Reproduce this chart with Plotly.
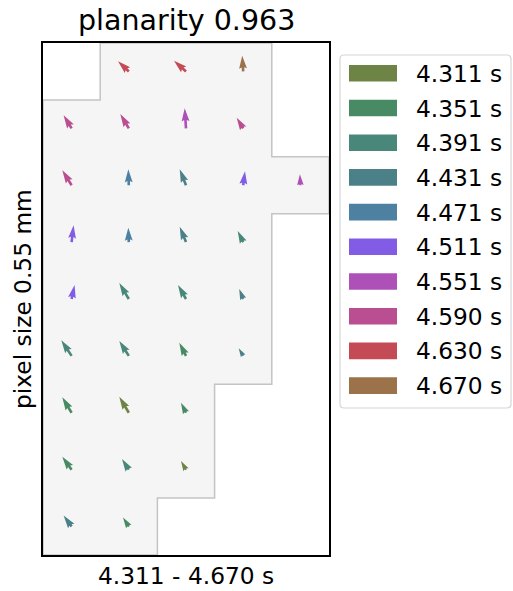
import numpy as np
import plotly.graph_objects as go

# ---------------- data ----------------
times = ["4.311", "4.351", "4.391", "4.431", "4.471", "4.511", "4.551", "4.590", "4.630", "4.670"]
time_colors = ["#6e8446", "#488a63", "#4a877b", "#4b8089", "#4e80a2",
               "#835ce6", "#ad50b8", "#b94e91", "#c44a55", "#9b7249"]

# grid cell (column, row) of each arrow tail, row 0 at the top
arrow_col = [1, 2, 3,
             0, 1, 2, 3,
             0, 1, 2, 3, 4,
             0, 1, 2, 3,
             0, 1, 2, 3,
             0, 1, 2, 3,
             0, 1, 2,
             0, 1, 2,
             0, 1]
arrow_row = [0, 0, 0,
             1, 1, 1, 1,
             2, 2, 2, 2, 2,
             3, 3, 3, 3,
             4, 4, 4, 4,
             5, 5, 5, 5,
             6, 6, 6,
             7, 7, 7,
             8, 8]
# vector components (right, up)
arrow_u = [-10.8, -12.0, -1.0,
           -8.0, -8.5, -1.3, -6.5,
           -9.3, -0.5, -6.3, 1.8, -0.5,
           2.0, -0.5, -6.3, -5.5,
           3.0, -9.5, -8.0, -4.0,
           -10.3, -9.5, -6.7, -4.5,
           -9.3, -9.5, -5.0,
           -9.3, -6.8, -5.0,
           -8.0, -5.8]
arrow_v = [10.2, 10.8, 15.8,
           13.0, 14.3, 20.0, 10.6,
           14.9, 15.9, 15.9, 14.0, 10.9,
           16.8, 14.4, 15.4, 11.1,
           14.0, 16.0, 14.0, 10.0,
           15.6, 15.0, 13.2, 7.6,
           15.5, 16.1, 10.1,
           13.0, 10.7, 8.7,
           11.0, 9.0]
arrow_time = ["4.630", "4.630", "4.670",
              "4.590", "4.590", "4.551", "4.590",
              "4.590", "4.471", "4.431", "4.511", "4.551",
              "4.511", "4.471", "4.431", "4.391",
              "4.511", "4.391", "4.391", "4.431",
              "4.391", "4.391", "4.351", "4.431",
              "4.351", "4.311", "4.351",
              "4.351", "4.391", "4.311",
              "4.431", "4.351"]

# outline of the sensor area (cell edges)
outline_x = [-0.5, 0.5, 0.5, 3.5, 3.5, 4.5, 4.5, 3.5, 3.5, 2.5, 2.5, 1.5, 1.5, -0.5, -0.5]
outline_y = [0.5, 0.5, -0.5, -0.5, 1.5, 1.5, 2.5, 2.5, 5.5, 5.5, 7.5, 7.5, 8.5, 8.5, 0.5]

title_text = "planarity 0.963"
xlabel_text = "4.311 - 4.670 s"
ylabel_text = "pixel size 0.55 mm"

# ---------------- layout geometry ----------------
W, H = 513, 591
PL, PR, PT, PB = 43, 329, 43, 555
NCOL, NROW = 5, 9
sx = (PR - PL) / NCOL
sy = (PB - PT) / NROW
FONT = "DejaVu Sans"

def px2paper_x(x):
    return (x - PL) / (PR - PL)

def px2paper_y(y):
    return (PB - y) / (PB - PT)

color_of = dict(zip(times, time_colors))

fig = go.Figure()

fig.add_trace(go.Scatter(
    x=outline_x, y=outline_y, mode="lines", fill="toself",
    fillcolor="#f5f5f5", line=dict(color="#c4c4c4", width=1.5),
    hoverinfo="skip", showlegend=False))

# quiver-like arrows (matplotlib quiver geometry, pivot at tail)
WPX = 2.6
HL, HAL, HW, MINSH = 5.0, 4.5, 3.0, 5.0

def arrow_poly(c, r, uu, vv):
    lp = np.hypot(uu, vv)
    dx, dy = uu / lp, -vv / lp          # screen direction (y down)
    nx, ny = -dy, dx
    lw = lp / WPX
    if lw >= MINSH:
        X = [0, lw - HAL, lw - HL, lw, lw - HL, lw - HAL, 0, 0]
        Y = [0.5, 0.5, HW / 2, 0, -HW / 2, -0.5, -0.5, 0.5]
    else:
        s = lw / MINSH
        X = [s * q for q in [0, MINSH - HAL, MINSH - HL, MINSH, MINSH - HL, MINSH - HAL, 0, 0]]
        Y = [s * q for q in [0.5, 0.5, HW / 2, 0, -HW / 2, -0.5, -0.5, 0.5]]
    X = np.array(X) * WPX
    Y = np.array(Y) * WPX
    px = X * dx + Y * nx
    py = X * dy + Y * ny
    return c + px / sx, r + py / sy

for c, r, uu, vv, t in zip(arrow_col, arrow_row, arrow_u, arrow_v, arrow_time):
    xs, ys = arrow_poly(c, r, uu, vv)
    fig.add_trace(go.Scatter(
        x=xs, y=ys, mode="lines", fill="toself",
        fillcolor=color_of[t], line=dict(width=0, color=color_of[t]),
        hoverinfo="skip", showlegend=False))

shapes = []
annotations = []

# manual legend
LX0, LX1, LY0, LY1, RAD = 340, 511, 55, 408, 4
def P(x, y):
    return f"{px2paper_x(x):.5f},{px2paper_y(y):.5f}"
path = (f"M{P(LX0 + RAD, LY0)} L{P(LX1 - RAD, LY0)} Q{P(LX1, LY0)} {P(LX1, LY0 + RAD)} "
        f"L{P(LX1, LY1 - RAD)} Q{P(LX1, LY1)} {P(LX1 - RAD, LY1)} "
        f"L{P(LX0 + RAD, LY1)} Q{P(LX0, LY1)} {P(LX0, LY1 - RAD)} "
        f"L{P(LX0, LY0 + RAD)} Q{P(LX0, LY0)} {P(LX0 + RAD, LY0)} Z")
shapes.append(dict(type="path", xref="paper", yref="paper", path=path,
                   fillcolor="white", line=dict(color="#d6d6d6", width=1.2), layer="above"))
ROW0, DROW = 73.3, 34.7
for i, (t, col) in enumerate(zip(times, time_colors)):
    yc = ROW0 + i * DROW
    shapes.append(dict(type="rect", xref="paper", yref="paper",
                       x0=px2paper_x(349), x1=px2paper_x(397),
                       y0=px2paper_y(yc - 8.3), y1=px2paper_y(yc + 8.3),
                       fillcolor=col, line=dict(width=0), layer="above"))
    annotations.append(dict(xref="paper", yref="paper", x=px2paper_x(414), y=px2paper_y(yc),
                            xanchor="left", yanchor="middle", showarrow=False,
                            text=f"{t} s", font=dict(family=FONT, size=23.3, color="black")))

annotations.append(dict(xref="paper", yref="paper", x=0.5, y=1, xanchor="center", yanchor="bottom",
                        yshift=4, showarrow=False, text=title_text,
                        font=dict(family=FONT, size=28.5, color="black")))
annotations.append(dict(xref="paper", yref="paper", x=0.5, y=0, xanchor="center", yanchor="top",
                        yshift=-5, showarrow=False, text=xlabel_text,
                        font=dict(family=FONT, size=23.3, color="black")))
annotations.append(dict(xref="paper", yref="paper", x=px2paper_x(22), y=0.5, xanchor="center",
                        yanchor="middle", textangle=-90, showarrow=False, text=ylabel_text,
                        font=dict(family=FONT, size=23.3, color="black")))

axis_common = dict(showgrid=False, zeroline=False, showticklabels=False, ticks="",
                   showline=True, mirror=True, linecolor="black", linewidth=1.6)
fig.update_layout(
    width=W, height=H, autosize=False,
    margin=dict(l=PL, r=W - PR, t=PT, b=H - PB, pad=0),
    paper_bgcolor="white", plot_bgcolor="white",
    xaxis=dict(range=[-0.5, NCOL - 0.5], **axis_common),
    yaxis=dict(range=[NROW - 0.5, -0.5], **axis_common),
    shapes=shapes, annotations=annotations, showlegend=False,
)

fig.write_html("out.html")
